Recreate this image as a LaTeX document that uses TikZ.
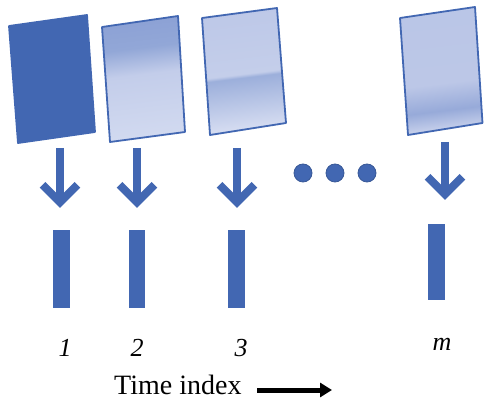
\documentclass[tikz,border=0pt]{standalone}
\usepackage{fontspec}
\setmainfont{Liberation Serif}
\usetikzlibrary{arrows.meta}
\definecolor{mainblue}{RGB}{66,103,178}
\definecolor{mbA}{RGB}{140,161,213}
\definecolor{mbB}{RGB}{146,167,215}
\definecolor{lbA}{RGB}{195,205,234}
\definecolor{lbB}{RGB}{210,218,240}
\definecolor{tA}{RGB}{189,200,232}
\definecolor{tB}{RGB}{196,206,234}
\definecolor{tC}{RGB}{156,175,219}
\definecolor{tD}{RGB}{218,224,243}
\definecolor{qA}{RGB}{186,198,231}
\definecolor{qB}{RGB}{188,199,231}
\definecolor{qC}{RGB}{151,170,217}
\definecolor{qD}{RGB}{206,214,238}
\pgfdeclareverticalshading{shadeTwo}{100bp}{color(0bp)=(lbB); color(25bp)=(lbB); color(52bp)=(lbA); color(63bp)=(mbB); color(75bp)=(mbA); color(100bp)=(mbA)}
\pgfdeclareverticalshading{shadeThree}{100bp}{color(0bp)=(tD); color(25bp)=(tD); color(47.5bp)=(tC); color(49bp)=(tB); color(75bp)=(tA); color(100bp)=(tA)}
\pgfdeclareverticalshading{shadeM}{100bp}{color(0bp)=(qD); color(25bp)=(qD); color(34bp)=(qC); color(45bp)=(qB); color(75bp)=(qA); color(100bp)=(qA)}
\begin{document}
\begin{tikzpicture}[x=1pt,y=1pt,
  frame/.style={draw=mainblue, line width=1.8pt, line join=round},
  downarrow/.style={draw=mainblue, line width=8pt, line join=miter},
  bar/.style={rectangle, fill=mainblue, draw=none, inner sep=0pt},
  dot/.style={circle, fill=mainblue, draw=mainblue!85!black, line width=0.8pt, minimum size=18pt, inner sep=0pt},
  idx/.style={font=\fontsize{26}{28}\selectfont\itshape, inner sep=0pt, anchor=base}]
\useasboundingbox (0,0) rectangle (484,399);
% frames
\draw[frame, fill=mainblue] (9,373) -- (87,384) -- (95,267) -- (18,256) -- cycle;
\shadedraw[frame, shading=shadeTwo, shading angle=7] (102,372) -- (178,383) -- (185,267) -- (110,257) -- cycle;
\shadedraw[frame, shading=shadeThree, shading angle=7] (202,381) -- (277,391) -- (286,276) -- (210,264) -- cycle;
\shadedraw[frame, shading=shadeM, shading angle=7] (400,381) -- (475,392) -- (482.5,276) -- (408,264) -- cycle;
% arrows
\coordinate (t1) at (60,251);  \coordinate (v1) at (60,196.7);
\coordinate (t2) at (137,251); \coordinate (v2) at (137,196.7);
\coordinate (t3) at (237,251); \coordinate (v3) at (237,196.7);
\coordinate (tm) at (445,257); \coordinate (vm) at (445,204.7);
\foreach \i in {1,2,3,m}{
  \draw[downarrow] (t\i) -- (v\i);
  \draw[downarrow] (v\i) ++(-17.5,17.5) -- (v\i) -- ++(17.5,17.5);
}
% dots
\node[dot] (d1) at (303,226) {};
\node[dot] (d2) at (335,226) {};
\node[dot] (d3) at (367,226) {};
% bars
\node[bar, minimum width=17pt, minimum height=78pt] (b1) at (61,130) {};
\node[bar, minimum width=16pt, minimum height=78pt] (b2) at (137,130) {};
\node[bar, minimum width=17pt, minimum height=78pt] (b3) at (236,130) {};
\node[bar, minimum width=17pt, minimum height=76pt] (bm) at (436.5,137) {};
% labels
\node[idx] (l1) at (65,43) {1};
\node[idx] (l2) at (137,43) {2};
\node[idx] (l3) at (241,43) {3};
\node[idx] (lm) at (442,49) {m};
\node[font=\fontsize{28}{30}\selectfont, anchor=base west, inner sep=0pt] (ti) at (114,5) {Time index};
\coordinate (as) at (257,9);
\coordinate (ae) at (332,9);
\draw[line width=5pt, -{Triangle[length=12pt,width=14pt]}] (as) -- (ae);
\end{tikzpicture}
\end{document}
